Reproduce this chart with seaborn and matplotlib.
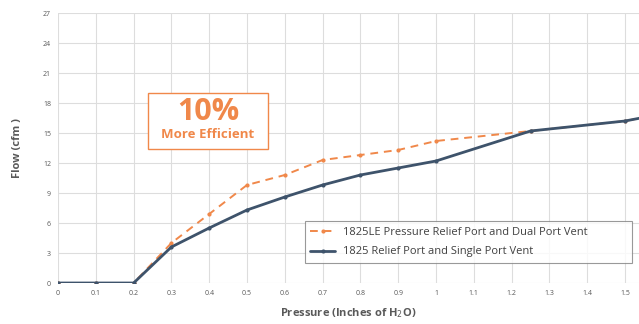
import matplotlib
matplotlib.use("Agg")
import matplotlib.pyplot as plt
import seaborn as sns
import pandas as pd

pressure_le = [0, 0.1, 0.2, 0.3, 0.4, 0.5, 0.6, 0.7, 0.8, 0.9, 1.0, 1.25, 1.5, 1.75]
flow_le = [0, 0, 0, 4.0, 6.9, 9.8, 10.8, 12.3, 12.8, 13.3, 14.2, 15.2, 16.2, 18.0]
pressure_std = [0, 0.1, 0.2, 0.3, 0.4, 0.5, 0.6, 0.7, 0.8, 0.9, 1.0, 1.25, 1.5, 1.75]
flow_std = [0, 0, 0, 3.6, 5.5, 7.3, 8.6, 9.8, 10.8, 11.5, 12.2, 15.2, 16.2, 18.0]
label_le = "1825LE Pressure Relief Port and Dual Port Vent"
label_std = "1825 Relief Port and Single Port Vent"
x_ticks = [0, 0.1, 0.2, 0.3, 0.4, 0.5, 0.6, 0.7, 0.8, 0.9, 1.0, 1.1, 1.2, 1.3, 1.4, 1.5]
x_tick_labels = ["0", "0.1", "0.2", "0.3", "0.4", "0.5", "0.6", "0.7", "0.8", "0.9", "1",
                 "1.1", "1.2", "1.3", "1.4", "1.5"]
y_ticks = [0, 3, 6, 9, 12, 15, 18, 21, 24, 27]

ORANGE = "#F0884A"
BLUE = "#3E536B"
GRAY = "#595959"

sns.set_theme(style="white")
plt.rcParams['font.family'] = ['Open Sans', 'DejaVu Sans']

fig = plt.figure(figsize=(6.39, 3.24), dpi=100)
ax = fig.add_axes([58/639, 41/324, 581/639, 270/324])

df_le = pd.DataFrame({"p": pressure_le, "f": flow_le})
df_std = pd.DataFrame({"p": pressure_std, "f": flow_std})

sns.lineplot(data=df_le, x="p", y="f", ax=ax, color=ORANGE, linestyle=(0, (4, 3)),
             linewidth=1.4, marker="o", markersize=3, markeredgewidth=0, label=label_le,
             zorder=3)
sns.lineplot(data=df_std, x="p", y="f", ax=ax, color=BLUE, linewidth=2.0,
             marker="o", markersize=3, markeredgewidth=0, label=label_std, zorder=4)

ax.set_xlim(0, 1.537)
ax.set_ylim(0, 27)
ax.set_xticks(x_ticks)
ax.set_xticklabels(x_tick_labels)
ax.set_yticks(y_ticks)
ax.tick_params(axis="both", labelsize=5, colors=GRAY, length=0, pad=5)
ax.grid(True, color="#DDDDDD", linewidth=0.8)
for s in ax.spines.values():
    s.set_visible(False)

ax.set_xlabel("Pressure (Inches of H$_2$O)", fontsize=8, fontweight="bold", color=GRAY,
              labelpad=7)
ax.set_ylabel("Flow (cfm )", fontsize=8, fontweight="bold", color=GRAY, labelpad=14)

leg = ax.legend(loc="lower left", bbox_to_anchor=(0.425, 0.074, 0.563, 0.156),
                mode="expand", fontsize=8, frameon=True, fancybox=False,
                edgecolor="#808080", borderpad=0.5, handlelength=2.2, labelspacing=0.8,
                borderaxespad=0, handletextpad=0.7)
leg.get_frame().set_linewidth(0.8)
for t in leg.get_texts():
    t.set_color("#404040")

# annotation box
ax.add_patch(plt.Rectangle((90/378, (283-149)/10), 120/378, 5.6, transform=ax.transData,
                           facecolor="white", edgecolor=ORANGE, linewidth=1.0, zorder=5))
cx = (208 - 58) / 378
ax.text(cx, (283-112)/10, "10%", ha="center", va="center", fontsize=22, fontweight="bold",
        color=ORANGE, zorder=6)
ax.text(cx, (283-134)/10, "More Efficient", ha="center", va="center", fontsize=9.5,
        fontweight="bold", color=ORANGE, zorder=6)

fig.savefig("out.png", dpi=100, facecolor="white")
